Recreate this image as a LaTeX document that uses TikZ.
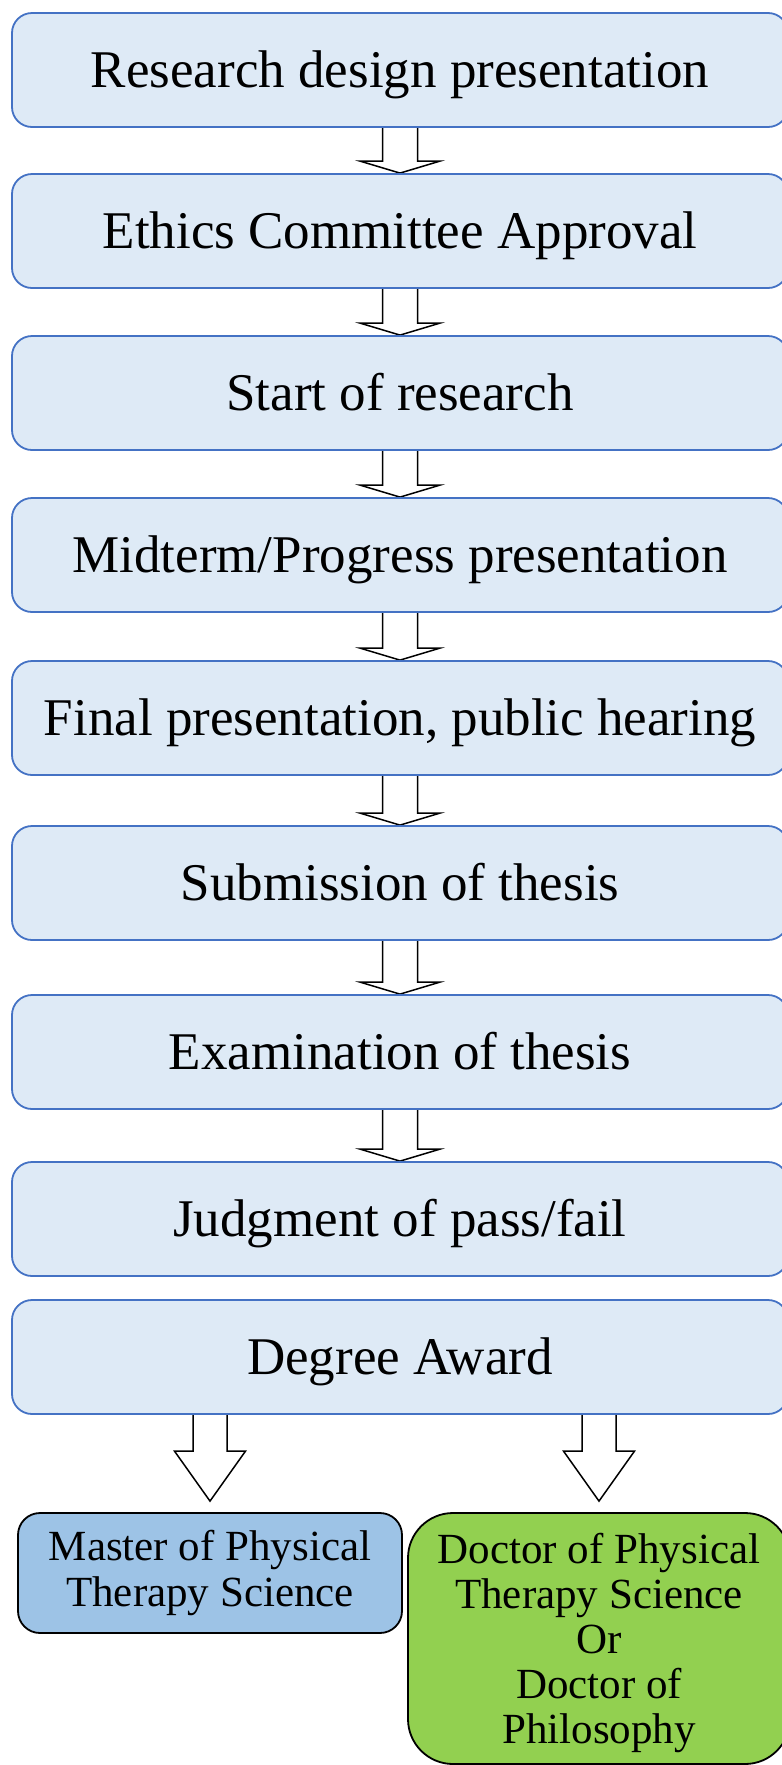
\documentclass[tikz,border=0pt]{standalone}
\usepackage{fontspec}
\setmainfont{Liberation Serif}
\usetikzlibrary{calc,backgrounds}

\definecolor{boxfill}{HTML}{DEEAF6}
\definecolor{boxline}{HTML}{4472C4}
\definecolor{masterfill}{HTML}{9DC3E6}
\definecolor{doctorfill}{HTML}{92D050}

% hollow block arrow: start, tip, half shaft, half head, head length
\newcommand{\flowarrow}[5]{%
  \draw[hollow] let \p1=(#1), \p2=(#2) in
    (\x1-#3pt,\y1) -- (\x1-#3pt,\y2+#5pt) -- (\x1-#4pt,\y2+#5pt) -- (\x1,\y2)
    -- (\x1+#4pt,\y2+#5pt) -- (\x1+#3pt,\y2+#5pt) -- (\x1+#3pt,\y1);}

\begin{document}
\begin{tikzpicture}[x=1pt,y=-1pt,
	stage/.style={rectangle,rounded corners=20pt,draw=boxline,line width=1.8pt,fill=boxfill,
		minimum width=776pt,minimum height=114pt,inner sep=0pt,
		font=\fontsize{53}{60}\selectfont,text height=35pt,text depth=0pt},
	degbox/.style={rectangle,rounded corners=22pt,draw=black,line width=1.8pt,
		align=center,inner sep=0pt,font=\fontsize{43}{46}\selectfont},
	hollow/.style={draw=black,line width=1.5pt,fill=white,line join=miter}]
	\useasboundingbox (0,0) rectangle (782,1765);
	\foreach \y/\n/\txt in {70/b1/{Research design presentation},
		231/b2/{Ethics Committee Approval},
		393/b3/{Start of research},
		555/b4/{Midterm/Progress presentation},
		718/b5/{Final presentation, public hearing},
		883/b6/{Submission of thesis},
		1052/b7/{Examination of thesis},
		1219/b8/{Judgment of pass/fail},
		1357/b9/{Degree Award}}
		\node[stage] (\n) at (400,\y) {\txt};
	\node[degbox,fill=masterfill,minimum width=384pt,minimum height=120pt] (mas) at (210,1573)
		{Master of Physical\\Therapy Science};
	\node[degbox,fill=doctorfill,rounded corners=45pt,minimum width=382pt,minimum height=251pt,
		font=\fontsize{43}{45}\selectfont] (doc) at (599,1638.5)
		{\rule{0pt}{40pt}Doctor of Physical\\Therapy Science\\Or\\Doctor of\\Philosophy};
	\begin{scope}[on background layer]
		\foreach \a/\b in {b1/b2,b2/b3,b3/b4,b4/b5,b5/b6,b6/b7,b7/b8}
			{\flowarrow{\a.south}{\b.north}{17.5}{40}{12}}
		\flowarrow{b9.south -| mas.north}{$(mas.north)+(0,-11)$}{17}{35.5}{50}
		\flowarrow{b9.south -| doc.north}{$(doc.north)+(0,-11)$}{17}{35.5}{50}
	\end{scope}
\end{tikzpicture}
\end{document}
